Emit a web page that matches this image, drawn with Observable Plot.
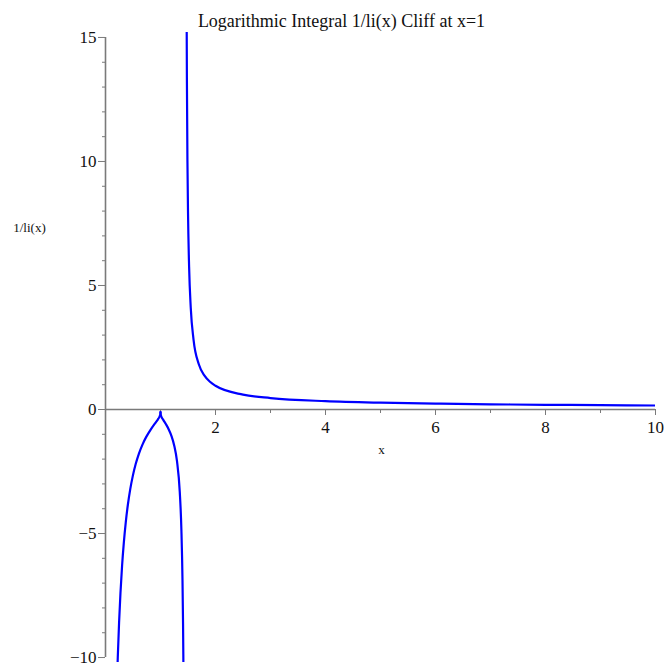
<!DOCTYPE html>
<html>
<head>
<meta charset="utf-8">
<script src="https://cdn.jsdelivr.net/npm/d3@7"></script>
<script src="https://cdn.jsdelivr.net/npm/@observablehq/plot@0.6"></script>
<style>
  html, body { margin: 0; padding: 0; background: #fff; }
</style>
</head>
<body>
<div id="chart"></div>
<script>
// ---- data ----
const titleText = "Logarithmic Integral 1/li(x) Cliff at x=1";
const yLabelText = "1/li(x)";
const xLabelText = "x";

// branch left of x=1
const branchAx = [0.2019, 0.2231, 0.2466, 0.2725, 0.3012, 0.3329, 0.3679, 0.4066, 0.4493, 0.4966, 0.5488, 0.6065, 0.6703, 0.7408, 0.8187, 0.9048, 0.9512, 0.9802, 0.9900, 0.9990, 1.0];
const branchAy = [-11.59, -10.0, -8.61, -7.38, -6.31, -5.38, -4.56, -3.84, -3.22, -2.675, -2.20, -1.786, -1.424, -1.104, -0.818, -0.549, -0.405, -0.298, -0.248, -0.158, -0.10];
// branch between x=1 and the pole
const branchBx = [1.0, 1.001, 1.01, 1.05, 1.10, 1.15, 1.20, 1.25, 1.30, 1.35, 1.38, 1.40, 1.41, 1.415, 1.418];
const branchBy = [-0.10, -0.158, -0.249, -0.418, -0.597, -0.803, -1.071, -1.457, -2.083, -3.309, -4.861, -6.90, -8.65, -9.89, -10.81];
// branch right of the pole
const branchCx = [1.475, 1.48, 1.49, 1.50, 1.52, 1.55, 1.60, 1.70, 1.80, 1.90, 2.0, 2.5, 3, 4, 5, 6, 7, 8, 9, 10];
const branchCy = [16.1, 13.35, 9.98, 7.995, 5.76, 4.104, 2.827, 1.806, 1.365, 1.117, 0.957, 0.600, 0.462, 0.337, 0.275, 0.237, 0.210, 0.190, 0.175, 0.162];

const xMajor = [2, 4, 6, 8, 10];
const xMinor = [1, 3, 5, 7, 9];
const yMajor = [-10, -5, 0, 5, 10, 15];
const yMinor = [-9, -8, -7, -6, -4, -3, -2, -1, 1, 2, 3, 4, 6, 7, 8, 9, 11, 12, 13, 14];
const xDomain = [0, 10];
const yDomain = [-10.2, 15.2];
const xAxisSpan = [0, 10];
const yAxisSpan = [-10, 15];

// ---- build table ----
const pts = [];
branchAx.forEach((x, i) => pts.push({x, y: branchAy[i], s: "A"}));
branchBx.forEach((x, i) => pts.push({x, y: branchBy[i], s: "B"}));
branchCx.forEach((x, i) => pts.push({x, y: branchCy[i], s: "C"}));

const W = 665, H = 668;
const mT = 32, mB = 6, mL = 105, mR = 10;
const yZeroPx = mT + (yDomain[1] - 0) / (yDomain[1] - yDomain[0]) * (H - mT - mB);
const xAxisDy = yZeroPx - (H - mB);

const axisGray = "#7a7a7a";
const serif = "'Liberation Serif', 'DejaVu Serif', serif";

const plot = Plot.plot({
  width: W,
  height: H,
  marginTop: mT,
  marginBottom: mB,
  marginLeft: mL,
  marginRight: mR,
  style: {fontFamily: serif, background: "#fff", overflow: "visible"},
  x: {domain: xDomain},
  y: {domain: yDomain},
  marks: [
    // axis lines
    Plot.ruleY([0], {x1: xAxisSpan[0], x2: xAxisSpan[1], stroke: axisGray, strokeWidth: 1.6}),
    Plot.ruleX([0], {y1: yAxisSpan[0], y2: yAxisSpan[1], stroke: axisGray, strokeWidth: 1.6}),
    // x ticks
    Plot.axisX(xMajor, {anchor: "bottom", dy: xAxisDy, tickSize: 6, tickPadding: 5, stroke: axisGray, fill: "#111", fontSize: 17, label: null, tickFormat: d => String(d)}),
    Plot.axisX(xMinor, {anchor: "bottom", dy: xAxisDy, tickSize: 4, text: null, stroke: axisGray, label: null}),
    // y ticks
    Plot.axisY(yMajor, {anchor: "left", tickSize: 7, tickPadding: 2, stroke: axisGray, fill: "#111", fontSize: 17, label: null,
      tickFormat: d => d < 0 ? "\u2212" + Math.abs(d) : String(d)}),
    Plot.axisY(yMinor, {anchor: "left", tickSize: 4, dx: 1, text: null, stroke: axisGray, label: null}),
    // curve
    Plot.line(pts, {x: "x", y: "y", z: "s", stroke: "#0000ff", strokeWidth: 2.2, curve: "monotone-x", clip: true}),
    // texts
    Plot.text([titleText], {frameAnchor: "top-left", dx: 341 - mL, dy: 14 - mT, text: d => d, fontSize: 18, fill: "#111", textAnchor: "middle"}),
    Plot.text([yLabelText], {frameAnchor: "top-left", dx: 29 - mL, dy: 222 - mT, text: d => d, fontSize: 13, fill: "#111", textAnchor: "middle"}),
    Plot.text([xLabelText], {frameAnchor: "top-left", dx: 381 - mL, dy: 444 - mT, text: d => d, fontSize: 13, fill: "#111", textAnchor: "middle"})
  ]
});
document.getElementById("chart").appendChild(plot);
</script>
</body>
</html>
